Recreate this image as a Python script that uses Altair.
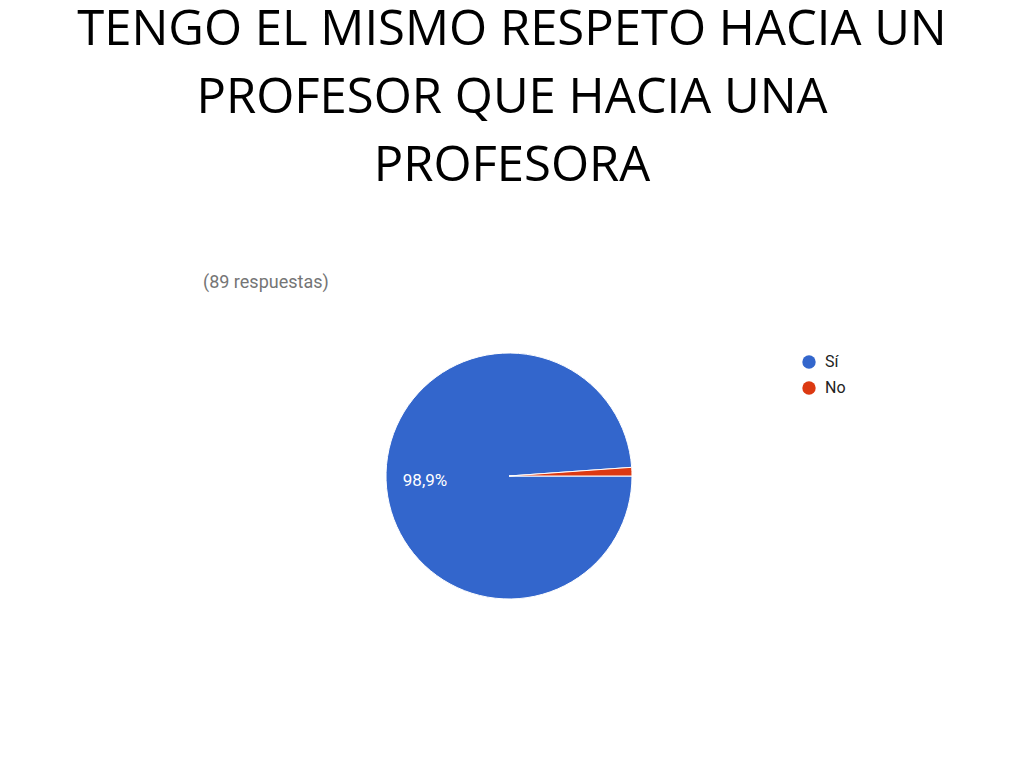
import altair as alt
import pandas as pd
import math

categories = ["Sí", "No"]
counts = [88, 1]
colors = ["#3366CC", "#DC3912"]
title_lines = ["TENGO EL MISMO RESPETO HACIA UN", "PROFESOR QUE HACIA UNA", "PROFESORA"]
subtitle = "(89 respuestas)"

total = sum(counts)
labels = []
for c in counts:
    pct = 100 * c / total
    labels.append((f"{pct:.1f}".replace(".", ",") + "%") if pct > 5 else "")

df = pd.DataFrame({"cat": categories, "n": counts, "order": list(range(len(categories))), "label": labels})

theta_scale = alt.Scale(range=[math.pi / 2, math.pi / 2 + 2 * math.pi])

CX, CY = 501, 468

base = alt.Chart(df).encode(
    theta=alt.Theta("n:Q", stack=True, scale=theta_scale),
    order=alt.Order("order:Q"),
)

pie = base.mark_arc(outerRadius=123, stroke="white", strokeWidth=1).encode(
    x=alt.value(CX), y=alt.value(CY),
    color=alt.Color(
        "cat:N",
        scale=alt.Scale(domain=categories, range=colors),
        sort=categories,
        legend=alt.Legend(
            title=None, orient="none", legendX=793, legendY=346,
            symbolType="circle", symbolSize=180, symbolStrokeWidth=0,
            labelFont="Roboto", labelFontSize=16, labelColor="#222222",
            rowPadding=10, labelOffset=8,
        ),
    ),
)

pct_text = base.mark_text(radius=84, font="Roboto", fontSize=17, color="white").encode(
    x=alt.value(CX), y=alt.value(CY + 2), text="label:N"
)

title = alt.Chart(pd.DataFrame({"t": [0]})).mark_text(
    font="Open Sans", fontSize=49, color="black", align="center",
    baseline="alphabetic", lineHeight=68,
).encode(x=alt.value(504), y=alt.value(37), text=alt.value(title_lines))

sub = alt.Chart(pd.DataFrame({"t": [0]})).mark_text(
    font="Roboto", fontSize=18, color="#757575", align="left", baseline="middle",
).encode(x=alt.value(195), y=alt.value(275), text=alt.value(subtitle))

chart = alt.layer(pie, pct_text, title, sub).properties(
    width=1008, height=752, autosize=alt.AutoSizeParams(type="none"), padding=0
).configure_view(stroke=None)

chart.save("out.html", embed_options={"renderer": "svg", "actions": False})
